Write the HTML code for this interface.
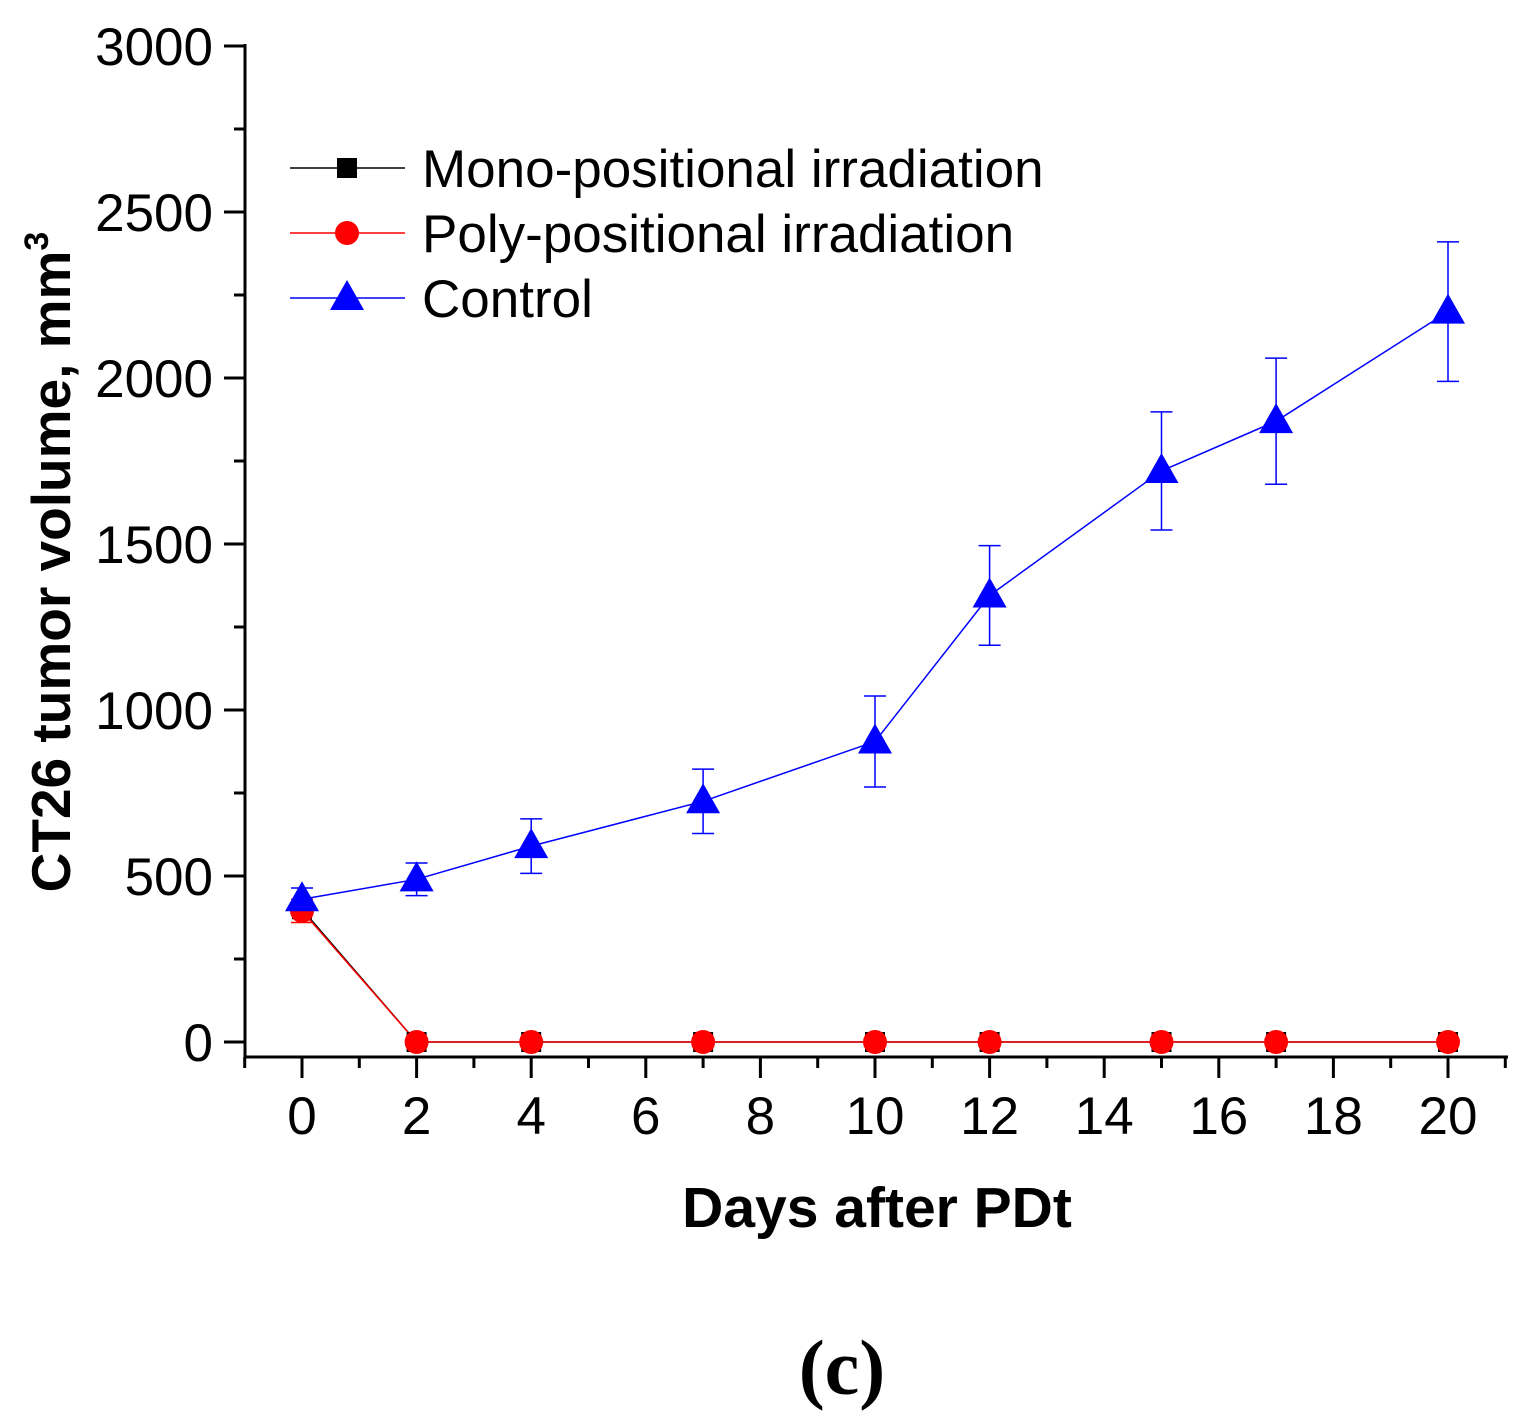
<!DOCTYPE html>
<html><head><meta charset="utf-8"><style>
html,body{margin:0;padding:0;background:#fff;}
svg{display:block;font-family:"Liberation Sans",Arial,sans-serif;}
</style></head><body>
<svg id="chart" width="1530" height="1424" viewBox="0 0 1530 1424">
<g id="axes"></g>
<g id="series"></g>
<g id="legend"></g>
<text transform="translate(70,562) rotate(-90)" text-anchor="middle" font-size="55" font-weight="bold">CT26 tumor volume, mm<tspan dy="-22" font-size="34">3</tspan></text>
<text x="877" y="1227" text-anchor="middle" font-size="57" font-weight="bold">Days after PDt</text>
<text x="842" y="1394" text-anchor="middle" font-size="78" font-weight="bold" font-family="'Liberation Serif',serif">(c)</text>
</svg>
<script>
const days=[0,2,4,7,10,12,15,17,20];
const monoVals=[400,0,0,0,0,0,0,0,0];
const polyVals=[395,0,0,0,0,0,0,0,0];
const polyErr=[35,0,0,0,0,0,0,0,0];
const controlVals=[430,490,590,725,905,1345,1720,1870,2200];
const controlErr=[34,49,82,97,137,150,178,190,210];
const yTicks=[0,500,1000,1500,2000,2500,3000];
const xTicks=[0,2,4,6,8,10,12,14,16,18,20];
const seriesNames=["Mono-positional irradiation","Poly-positional irradiation","Control"];

const NS="http://www.w3.org/2000/svg";
const X=d=>302+d*57.3;
const Y=v=>1042-v*0.332;
function mk(tag,attrs,parent){const e=document.createElementNS(NS,tag);for(const k in attrs)e.setAttribute(k,attrs[k]);parent.appendChild(e);return e;}
const axes=document.getElementById('axes');
const series=document.getElementById('series');
const legend=document.getElementById('legend');

let e=mk('line',{x1:245,y1:44,x2:245,y2:1058,stroke:'#000','stroke-width':3},axes);

e=mk('line',{x1:244,y1:1057,x2:1508,y2:1057,stroke:'#000','stroke-width':3},axes);

for(let v=0;v<=3000;v+=250){const major=v%500===0;
 e=mk('line',{x1:major?224:234,y1:Y(v),x2:245,y2:Y(v),stroke:'#000','stroke-width':3},axes);
 }
yTicks.forEach(v=>{e=mk('text',{x:213,y:Y(v)+19,'text-anchor':'end','font-size':53},axes);e.textContent=v;
 });
for(let d=-1;d<=21;d++){const major=d%2===0;
 e=mk('line',{x1:X(d),y1:1057,x2:X(d),y2:major?1078:1068,stroke:'#000','stroke-width':3},axes);
 }
xTicks.forEach(d=>{e=mk('text',{x:X(d),y:1134,'text-anchor':'middle','font-size':53},axes);e.textContent=d;
 });

function errBars(vals,errs,color,name){vals.forEach((v,i)=>{if(!errs[i])return;const x=X(days[i]);
 e=mk('path',{d:`M${x},${Y(v+errs[i])}V${Y(v-errs[i])}M${x-11},${Y(v+errs[i])}h22M${x-11},${Y(v-errs[i])}h22`,stroke:color,'stroke-width':1.5,fill:'none'},series);
 });}
function line(vals,color,name){e=mk('polyline',{points:vals.map((v,i)=>X(days[i])+','+Y(v)).join(' '),stroke:color,'stroke-width':1.5,fill:'none'},series);
 }
function marker(type,x,y,color,parent){if(type==='sq')return mk('rect',{x:x-10,y:y-10,width:20,height:20,fill:color},parent);
 if(type==='ci')return mk('circle',{cx:x,cy:y,r:12,fill:color},parent);
 return mk('polygon',{points:`${x},${y-18} ${x+17},${y+12} ${x-17},${y+12}`,fill:color},parent);}

errBars(controlVals,controlErr,'#0000ff','control-error-bar');
errBars(polyVals,polyErr,'#ff0000','poly-error-bar');
line(monoVals,'#000','mono-line');
line(polyVals,'#ff0000','poly-line');
line(controlVals,'#0000ff','control-line');
monoVals.forEach((v,i)=>{e=marker('sq',X(days[i]),Y(v),'#000',series);});
polyVals.forEach((v,i)=>{e=marker('ci',X(days[i]),Y(v),'#ff0000',series);});
controlVals.forEach((v,i)=>{e=marker('tr',X(days[i]),Y(v),'#0000ff',series);});

const lcolors=['#000','#ff0000','#0000ff'],ltypes=['sq','ci','tr'];
seriesNames.forEach((n,i)=>{const y=168+i*65;
 e=mk('line',{x1:290,y1:y,x2:405,y2:y,stroke:lcolors[i],'stroke-width':1.5},legend);
 
 e=marker(ltypes[i],347,y,lcolors[i],legend);
 e=mk('text',{x:422,y:y+19,'font-size':53},legend);e.textContent=n;
 });
</script>
</body></html>
